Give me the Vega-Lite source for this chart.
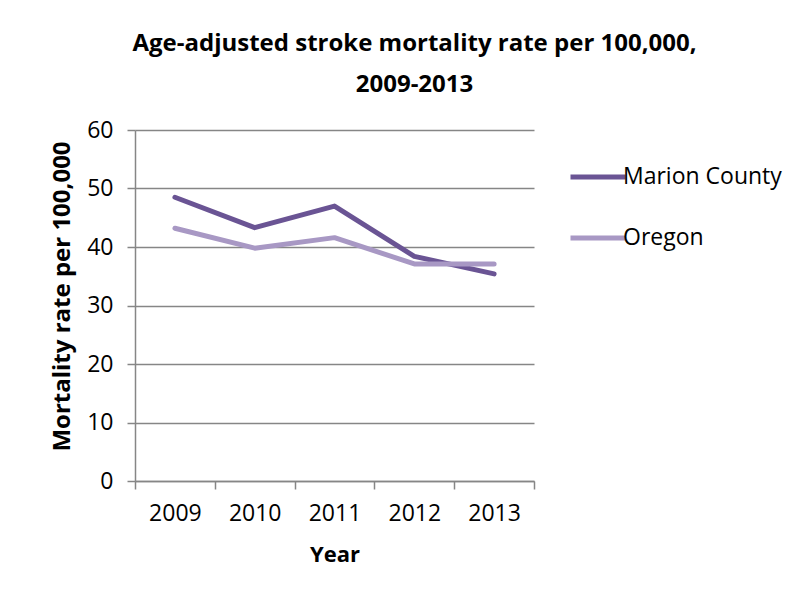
{
  "$schema": "https://vega.github.io/schema/vega-lite/v6.json",
  "autosize": "none",
  "width": 399,
  "height": 351,
  "padding": {"left": 135, "top": 130, "right": 278, "bottom": 120},
  "background": "white",
  "title": {
    "text": ["Age-adjusted stroke mortality rate per 100,000,", "2009-2013"],
    "font": "Open Sans",
    "fontSize": 24,
    "fontWeight": "bold",
    "color": "#000000",
    "lineHeight": 41,
    "anchor": "middle",
    "frame": "group",
    "dx": 80,
    "offset": 22
  },
  "data": {
    "values": [
      {"Year": "2009", "Series": "Marion County", "Rate": 48.5},
      {"Year": "2010", "Series": "Marion County", "Rate": 43.3},
      {"Year": "2011", "Series": "Marion County", "Rate": 47.0},
      {"Year": "2012", "Series": "Marion County", "Rate": 38.4},
      {"Year": "2013", "Series": "Marion County", "Rate": 35.4},
      {"Year": "2009", "Series": "Oregon", "Rate": 43.2},
      {"Year": "2010", "Series": "Oregon", "Rate": 39.8},
      {"Year": "2011", "Series": "Oregon", "Rate": 41.6},
      {"Year": "2012", "Series": "Oregon", "Rate": 37.1},
      {"Year": "2013", "Series": "Oregon", "Rate": 37.1}
    ]
  },
  "mark": {"type": "line", "strokeWidth": 5, "strokeCap": "round", "strokeJoin": "round"},
  "encoding": {
    "x": {
      "field": "Year",
      "type": "ordinal",
      "scale": {"type": "band", "paddingInner": 0, "paddingOuter": 0},
      "axis": {
        "title": "Year",
        "labelAngle": 0,
        "tickBand": "extent",
        "grid": false,
        "tickSize": 8,
        "labelPadding": 13,
        "titlePadding": 19
      }
    },
    "y": {
      "field": "Rate",
      "type": "quantitative",
      "scale": {"domain": [0, 60], "nice": false},
      "axis": {
        "title": "Mortality rate per 100,000",
        "values": [0, 10, 20, 30, 40, 50, 60],
        "tickSize": 8,
        "labelPadding": 14,
        "titlePadding": 12,
        "titleFontSize": 24,
        "titleY": 166
      }
    },
    "color": {
      "field": "Series",
      "type": "nominal",
      "scale": {"domain": ["Marion County", "Oregon"], "range": ["#6A5494", "#A898C4"]},
      "legend": {
        "title": null,
        "orient": "none",
        "legendX": 433,
        "legendY": 17,
        "symbolType": "stroke",
        "symbolSize": 3025,
        "symbolStrokeWidth": 5,
        "labelOffset": -5,
        "rowPadding": 19,
        "labelFont": "Open Sans",
        "labelFontSize": 23,
        "labelColor": "#000000"
      }
    }
  },
  "config": {
    "view": {"stroke": null},
    "axis": {
      "labelFont": "Open Sans",
      "labelFontSize": 23,
      "labelColor": "#000000",
      "titleFont": "Open Sans",
      "titleFontSize": 22,
      "titleFontWeight": "bold",
      "titleColor": "#000000",
      "domainColor": "#868686",
      "domainWidth": 1.5,
      "tickColor": "#868686",
      "tickWidth": 1.5,
      "gridColor": "#868686",
      "gridWidth": 1.5
    }
  }
}
